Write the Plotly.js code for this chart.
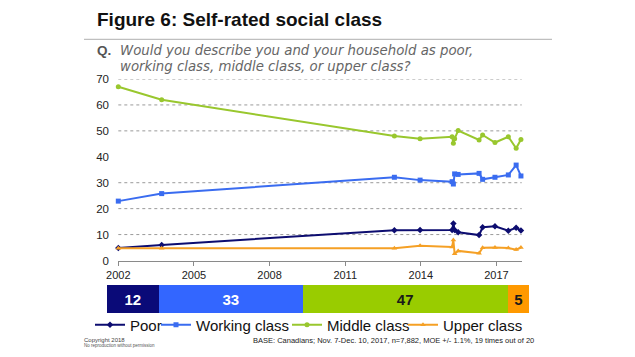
<!DOCTYPE html>
<html>
<head>
<meta charset="utf-8">
<script src="https://cdn.plot.ly/plotly-3.0.1.min.js"></script>
<style>html,body{margin:0;padding:0;background:#fff;}#chart{width:635px;height:357px;}</style>
</head>
<body>
<div id="chart"></div>
<script>
// ---- data ----
const years = [2002.0, 2003.72, 2012.95, 2013.97, 2015.24, 2015.29, 2015.34, 2015.48, 2016.31, 2016.45, 2016.94, 2017.47, 2017.78, 2017.97];
const poor    = [4.8, 6.0, 11.7, 11.8, 11.8, 14.3, 11.8, 10.9, 9.8, 12.8, 13.2, 11.5, 12.6, 11.6];
const working = [22.9, 25.8, 32.1, 31.0, 30.4, 29.5, 33.4, 33.2, 33.6, 31.3, 32.1, 33.0, 36.8, 32.6];
const middle  = [67.0, 62.0, 48.0, 47.0, 47.7, 45.2, 47.0, 50.1, 46.5, 48.4, 45.5, 47.7, 43.3, 46.7];
const upper   = [4.7, 4.7, 4.7, 5.7, 5.2, 7.9, 2.6, 3.7, 2.8, 4.9, 5.0, 4.8, 4.2, 5.0];
const seriesNames = ["Poor", "Working class", "Middle class", "Upper class"];
const latestVals = [12, 33, 47, 5];
const xTicks = [2002, 2005, 2008, 2011, 2014, 2017];
const yTicks = [0, 10, 20, 30, 40, 50, 60, 70];
const gridVals = [10, 20, 30, 50, 60, 70];

const lineColors = ["#0d0d70", "#3a6cf0", "#99c72e", "#f5a025"];
const barColors  = ["#0a0a78", "#3366ff", "#99cc00", "#ff9900"];
const barText    = ["#ffffff", "#ffffff", "#1a1a1a", "#1a1a1a"];
const symbols    = ["diamond", "square", "circle", "triangle-up"];
const allSeries  = [poor, working, middle, upper];
const legendIds  = ["legend", "legend2", "legend3", "legend4"];

const W = 635, H = 357;
const px = v => v / W, py = v => 1 - v / H;

const traces = [];
allSeries.forEach((s, i) => {
  traces.push({
    x: years, y: s, name: seriesNames[i], type: "scatter", mode: "lines+markers",
    line: {color: lineColors[i], width: 2},
    marker: {color: lineColors[i], size: 5, symbol: symbols[i]},
    cliponaxis: false, legend: legendIds[i], xaxis: "x", yaxis: "y"
  });
});
latestVals.forEach((v, i) => {
  traces.push({
    x: [v], y: ["latest"], type: "bar", orientation: "h", xaxis: "x2", yaxis: "y2",
    marker: {color: barColors[i], line: {width: 0}},
    text: [String(v)], textposition: "inside", insidetextanchor: "middle",
    textfont: {family: "Liberation Sans, Arial, sans-serif", size: 15, color: barText[i], weight: "bold"},
    showlegend: false, hoverinfo: "skip"
  });
});

const legendPos = [90, 156, 287, 403];
const legendCommon = (x) => ({
  orientation: "h", x: px(x), y: py(325), xanchor: "left", yanchor: "middle",
  font: {family: "Liberation Sans, Arial, sans-serif", size: 15, color: "#111"},
  bgcolor: "rgba(0,0,0,0)", borderwidth: 0, itemwidth: 30
});

const layout = {
  width: W, height: H,
  margin: {l: 0, r: 0, t: 0, b: 0},
  paper_bgcolor: "#fff", plot_bgcolor: "#fff",
  showlegend: true,
  barmode: "stack", bargap: 0,
  xaxis: {
    domain: [px(118.3), px(521.7)], range: [2002, 2018], anchor: "y",
    tickvals: xTicks, ticktext: xTicks.map(String),
    showgrid: false, zeroline: false,
    showline: true, linecolor: "#8a8a8a", linewidth: 1,
    ticks: "outside", ticklen: 4, tickcolor: "#8a8a8a",
    tickfont: {family: "Liberation Sans, Arial, sans-serif", size: 11, color: "#222"}
  },
  yaxis: {
    domain: [1 - 260.5 / H, 1 - 79 / H], range: [0, 70], anchor: "x",
    tickvals: yTicks, ticktext: yTicks.map(String),
    showgrid: false, zeroline: false, showline: false,
    ticks: "outside", ticklen: 6, tickcolor: "rgba(0,0,0,0)",
    tickfont: {family: "Liberation Sans, Arial, sans-serif", size: 11.5, color: "#222"}
  },
  xaxis2: {domain: [px(106.7), px(529.3)], range: [0, 97], anchor: "y2", visible: false, fixedrange: true},
  yaxis2: {domain: [1 - 313.3 / H, 1 - 285 / H], anchor: "x2", visible: false, range: [-0.5, 0.5]},
  legend: legendCommon(legendPos[0]),
  legend2: legendCommon(legendPos[1]),
  legend3: legendCommon(legendPos[2]),
  legend4: legendCommon(legendPos[3]),
  shapes: gridVals.map(v => ({
    type: "line", xref: "x domain", x0: 0, x1: 1, yref: "y", y0: v, y1: v,
    line: {color: "#9a9a9a", width: 1, dash: "dot"}, layer: "below"
  })).concat([{
    type: "line", xref: "paper", yref: "paper", x0: px(84), x1: px(552), y0: py(39.3), y1: py(39.3),
    line: {color: "#b0b0b0", width: 1}
  }]),
  annotations: [
    {text: "<b>Figure 6: Self-rated social class</b>", xref: "paper", yref: "paper",
     x: px(95), y: py(19.7), xanchor: "left", yanchor: "middle", showarrow: false,
     font: {family: "Liberation Sans, Arial, sans-serif", size: 19, color: "#111"}},
    {text: "<b>Q.</b>", xref: "paper", yref: "paper",
     x: px(95), y: py(50.2), xanchor: "left", yanchor: "middle", showarrow: false,
     font: {family: "Liberation Sans, Arial, sans-serif", size: 13.5, color: "#555"}},
    {text: "<i>Would you describe you and your household as poor,</i>", xref: "paper", yref: "paper",
     x: px(117.5), y: py(50.2), xanchor: "left", yanchor: "middle", showarrow: false,
     font: {family: "DejaVu Sans, sans-serif", size: 13.3, color: "#666"}},
    {text: "<i>working class, middle class, or upper class?</i>", xref: "paper", yref: "paper",
     x: px(117.5), y: py(66.2), xanchor: "left", yanchor: "middle", showarrow: false,
     font: {family: "DejaVu Sans, sans-serif", size: 13.3, color: "#666"}},
    {text: "Copyright 2018", xref: "paper", yref: "paper",
     x: px(82), y: py(339.5), xanchor: "left", yanchor: "middle", showarrow: false,
     font: {family: "Liberation Sans, Arial, sans-serif", size: 6, color: "#444"}},
    {text: "No reproduction without permission", xref: "paper", yref: "paper",
     x: px(82), y: py(345.5), xanchor: "left", yanchor: "middle", showarrow: false,
     font: {family: "Liberation Sans, Arial, sans-serif", size: 4.5, color: "#555"}},
    {text: "BASE: Canadians; Nov. 7-Dec. 10, 2017, n=7,882, MOE +/- 1.1%, 19 times out of 20", xref: "paper", yref: "paper",
     x: px(536), y: py(340.5), xanchor: "right", yanchor: "middle", showarrow: false,
     font: {family: "Liberation Sans, Arial, sans-serif", size: 7.5, color: "#222"}}
  ]
};

Plotly.newPlot("chart", traces, layout, {displayModeBar: false, staticPlot: true});
</script>
</body>
</html>
